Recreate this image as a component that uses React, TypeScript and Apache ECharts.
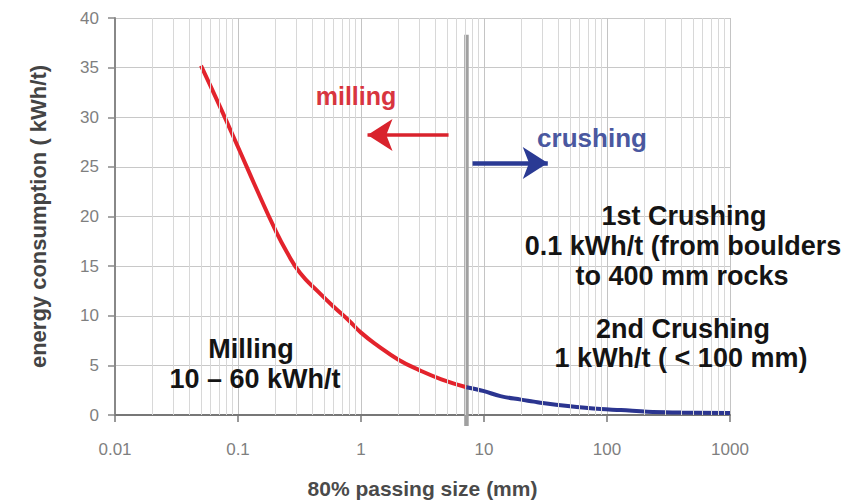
import React, { useEffect, useRef } from "react";
import * as echarts from "echarts";

// Milling curve (80% passing size in mm, energy kWh/t)
const millingSize = [0.05, 0.07, 0.1, 0.14, 0.2, 0.25, 0.32, 0.45, 0.6, 0.8, 1.0, 1.4, 2, 3, 4.5, 7.2];
const millingEnergy = [35.2, 31.3, 27.0, 22.9, 18.7, 16.4, 14.3, 12.4, 10.9, 9.5, 8.3, 6.9, 5.6, 4.5, 3.6, 2.8];

// Crushing curve
const crushingSize = [7.2, 10, 13.6, 20, 25.4, 30, 48, 89, 130, 213, 400, 1000];
const crushingEnergy = [2.8, 2.4, 1.9, 1.55, 1.35, 1.2, 0.9, 0.6, 0.5, 0.32, 0.25, 0.2];

// Divider between milling and crushing
const dividerSize = [7.2, 7.2];
const dividerEnergy = [38.3, -1.1];

const xTickLabels = ["0.01", "0.1", "1", "10", "100", "1000"];
const yTickLabels = ["0", "5", "10", "15", "20", "25", "30", "35", "40"];

const decades = [0.01, 0.1, 1, 10, 100];
const minorSteps = [2, 3, 4, 5, 6, 7, 8, 9];

const FONT = "'Liberation Sans', Arial, sans-serif";

export default function App() {
  const ref = useRef<HTMLDivElement>(null);

  useEffect(() => {
    if (!ref.current) return;
    const chart = echarts.init(ref.current, undefined, { renderer: "svg" });

    const minorLines: any[] = [];
    decades.forEach((d) => minorSteps.forEach((k) => minorLines.push({ xAxis: +(d * k).toPrecision(3) })));

    const annot = (text: string, x: number, baseline: number, size: number, color: string) => ({
      type: "text",
      x,
      y: baseline - 0.35 * size,
      silent: true,
      z: 100,
      style: {
        text,
        font: `bold ${size}px ${FONT}`,
        fill: color,
        align: "center",
        verticalAlign: "middle",
      },
    });

    chart.setOption({
      animation: false,
      backgroundColor: "#ffffff",
      grid: { left: 115, right: 131, top: 18, bottom: 88 },
      xAxis: {
        type: "log",
        logBase: 10,
        min: 0.01,
        max: 1000,
        name: "80% passing size (mm)",
        nameLocation: "middle",
        nameGap: 63,
        nameTextStyle: { fontFamily: FONT, fontSize: 21, fontWeight: "bold", color: "#4a4a4a" },
        axisLine: { show: true, lineStyle: { color: "#777777", width: 2 } },
        axisTick: { show: true, length: 7, lineStyle: { color: "#777777", width: 1.5 } },
        axisLabel: {
          fontFamily: FONT,
          fontSize: 17,
          color: "#7f7f7f",
          margin: 26,
          formatter: (v: number) => xTickLabels[Math.round(Math.log10(v)) + 2] ?? "",
        },
        splitLine: { show: true, lineStyle: { color: "#c4c4c4", width: 1 } },
        minorTick: { show: false },
        minorSplitLine: { show: false },
      },
      yAxis: {
        type: "value",
        min: 0,
        max: 40,
        interval: 5,
        name: "energy consumption ( kWh/t)",
        nameLocation: "middle",
        nameGap: 66,
        nameRotate: 90,
        nameTextStyle: { fontFamily: FONT, fontSize: 22, fontWeight: "bold", color: "#444444" },
        axisLine: { show: true, lineStyle: { color: "#888888", width: 2 } },
        axisTick: { show: true, length: 7, lineStyle: { color: "#888888", width: 1.5 } },
        axisLabel: {
          fontFamily: FONT,
          fontSize: 17,
          color: "#7f7f7f",
          margin: 16,
          formatter: (v: number) => yTickLabels[Math.round(v / 5)] ?? "",
        },
        splitLine: { show: true, lineStyle: { color: "#c8c8c8", width: 1 } },
      },
      series: [
        {
          name: "minor grid",
          type: "line",
          data: [],
          z: 1,
          silent: true,
          markLine: {
            silent: true,
            symbol: ["none", "none"],
            label: { show: false },
            lineStyle: { color: "#d8d8d8", width: 1, type: "solid" },
            data: minorLines,
          },
        },
        {
          name: "divider",
          type: "line",
          data: dividerSize.map((x, i) => [x, dividerEnergy[i]]),
          clip: false,
          showSymbol: false,
          symbol: "none",
          z: 3,
          lineStyle: { color: "#a0a0a0", width: 4.5 },
        },
        {
          name: "milling",
          type: "line",
          data: millingSize.map((x, i) => [x, millingEnergy[i]]),
          smooth: 0.5,
          showSymbol: false,
          symbol: "none",
          z: 4,
          lineStyle: { color: "#e3232c", width: 4 },
        },
        {
          name: "crushing",
          type: "line",
          data: crushingSize.map((x, i) => [x, crushingEnergy[i]]),
          smooth: 0.4,
          showSymbol: false,
          symbol: "none",
          z: 4,
          lineStyle: { color: "#2b3590", width: 4 },
        },
        {
          name: "milling arrow",
          type: "line",
          data: [],
          z: 5,
          markLine: {
            silent: true,
            symbol: ["none", "arrow"],
            symbolSize: [24, 25],
            label: { show: false },
            lineStyle: { color: "#d9232d", width: 3.5, type: "solid" },
            data: [[{ coord: [5.15, 28.2] }, { coord: [1.13, 28.2] }]],
          },
        },
        {
          name: "crushing arrow",
          type: "line",
          data: [],
          z: 5,
          markLine: {
            silent: true,
            symbol: ["none", "arrow"],
            symbolSize: [24, 25],
            label: { show: false },
            lineStyle: { color: "#2a3a94", width: 4.5, type: "solid" },
            data: [[{ coord: [8.07, 25.4] }, { coord: [33, 25.4] }]],
          },
        },
      ],
      graphic: [
        annot("milling", 356, 105, 25, "#d8353f"),
        annot("crushing", 592, 147, 26, "#4a58a0"),
        annot("1st Crushing", 684, 225, 27, "#141414"),
        annot("0.1 kWh/t (from boulders", 683, 255, 27, "#141414"),
        annot("to 400 mm rocks", 682, 285, 27, "#141414"),
        annot("2nd Crushing", 683, 338, 27, "#141414"),
        annot("1 kWh/t ( < 100 mm)", 681, 367, 27, "#141414"),
        annot("Milling", 251, 358, 27, "#141414"),
        annot("10 \u2013 60 kWh/t", 255, 388, 27, "#141414"),
      ],
    });

    return () => chart.dispose();
  }, []);

  return <div ref={ref} style={{ width: 861, height: 504, position: "absolute", left: 0, top: 0 }} />;
}
